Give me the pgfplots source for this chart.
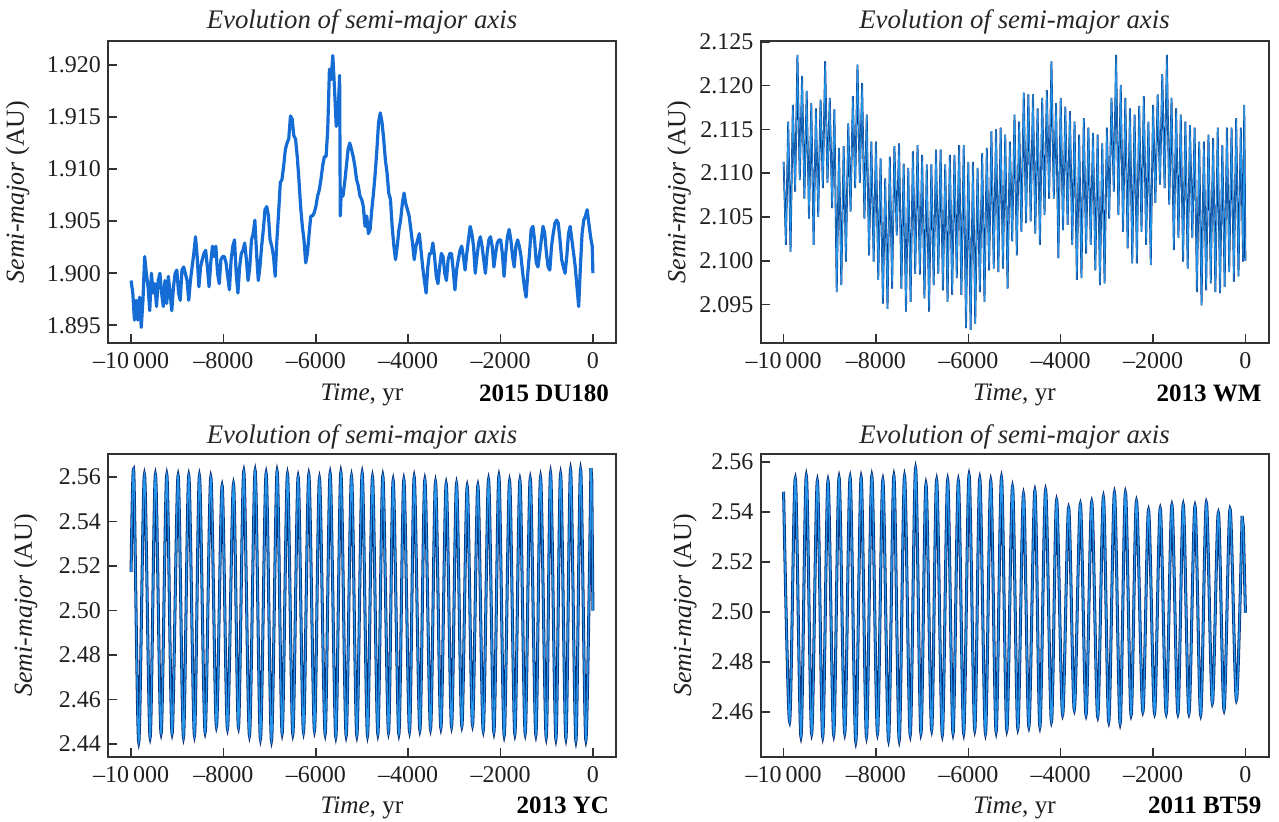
\documentclass[border=0pt]{standalone}
\usepackage{fontspec}
\setmainfont{Liberation Serif}
\usepackage{pgfplots}
\pgfplotsset{compat=1.18}
\usepackage{pgfplotstable}

\definecolor{axisgray}{RGB}{50,50,50}
\definecolor{dublue}{RGB}{20,108,212}
\definecolor{darkblue}{RGB}{10,45,120}
\definecolor{lightblue}{RGB}{35,150,235}

% 2015 DU180
\pgfplotstableread{
t v
-10000 1.8993
-9963 1.8981
-9927 1.8955
-9890 1.8974
-9853 1.8955
-9816 1.8977
-9780 1.8948
-9743 1.8974
-9706 1.9016
-9670 1.9000
-9633 1.8987
-9596 1.8964
-9560 1.9000
-9523 1.8981
-9486 1.8990
-9449 1.8968
-9413 1.8993
-9376 1.9000
-9339 1.8981
-9303 1.8968
-9266 1.8993
-9229 1.8971
-9193 1.8997
-9156 1.8981
-9119 1.8964
-9082 1.8987
-9046 1.9000
-9009 1.9003
-8972 1.8981
-8936 1.8974
-8899 1.9003
-8862 1.9006
-8826 1.9000
-8789 1.8993
-8752 1.8974
-8715 1.8993
-8679 1.9006
-8642 1.9019
-8605 1.9035
-8569 1.9016
-8532 1.8987
-8495 1.9006
-8459 1.9013
-8422 1.9019
-8385 1.9022
-8348 1.9006
-8312 1.8987
-8275 1.9010
-8238 1.9026
-8202 1.9016
-8165 1.9026
-8128 1.9000
-8091 1.8990
-8055 1.9013
-8018 1.9016
-7981 1.9016
-7944 1.9010
-7908 1.8997
-7871 1.8984
-7834 1.9013
-7797 1.9026
-7760 1.9032
-7724 1.9000
-7687 1.8981
-7650 1.9006
-7613 1.9019
-7577 1.9022
-7540 1.9029
-7503 1.9013
-7467 1.8993
-7430 1.9006
-7393 1.9032
-7357 1.9038
-7320 1.9051
-7283 1.9019
-7246 1.8993
-7210 1.9006
-7173 1.9026
-7136 1.9042
-7100 1.9061
-7063 1.9064
-7026 1.9055
-6990 1.9032
-6953 1.9026
-6916 1.9016
-6879 1.8997
-6843 1.9032
-6806 1.9058
-6769 1.9087
-6733 1.9090
-6696 1.9103
-6659 1.9119
-6623 1.9125
-6586 1.9129
-6549 1.9151
-6512 1.9148
-6476 1.9132
-6439 1.9129
-6402 1.9112
-6366 1.9090
-6329 1.9064
-6292 1.9045
-6256 1.9032
-6219 1.9010
-6182 1.9019
-6145 1.9038
-6109 1.9055
-6072 1.9055
-6035 1.9058
-5999 1.9064
-5962 1.9074
-5925 1.9080
-5889 1.9090
-5852 1.9103
-5815 1.9112
-5778 1.9112
-5742 1.9138
-5705 1.9196
-5668 1.9186
-5632 1.9209
-5595 1.9177
-5558 1.9141
-5522 1.9148
-5485 1.9190
-5470 1.9055
-5448 1.9080
-5412 1.9074
-5375 1.9087
-5338 1.9103
-5301 1.9119
-5265 1.9125
-5228 1.9119
-5191 1.9112
-5155 1.9103
-5118 1.9090
-5081 1.9084
-5044 1.9074
-5008 1.9071
-4971 1.9064
-4934 1.9045
-4898 1.9055
-4861 1.9038
-4824 1.9042
-4788 1.9061
-4751 1.9077
-4714 1.9096
-4677 1.9119
-4641 1.9145
-4604 1.9154
-4567 1.9145
-4531 1.9129
-4494 1.9109
-4457 1.9096
-4421 1.9077
-4384 1.9071
-4347 1.9045
-4310 1.9026
-4274 1.9013
-4237 1.9026
-4200 1.9042
-4164 1.9051
-4126 1.9067
-4089 1.9077
-4053 1.9067
-4016 1.9061
-3979 1.9055
-3942 1.9042
-3906 1.9029
-3869 1.9013
-3832 1.9026
-3796 1.9032
-3759 1.9038
-3722 1.9022
-3686 1.9006
-3649 1.8993
-3612 1.8981
-3575 1.9006
-3539 1.9019
-3502 1.9019
-3465 1.9029
-3429 1.9016
-3392 1.8997
-3355 1.8990
-3319 1.9006
-3282 1.9019
-3245 1.9016
-3208 1.9000
-3172 1.8993
-3135 1.9013
-3098 1.9019
-3062 1.9019
-3025 1.9003
-2988 1.8984
-2952 1.9003
-2915 1.9013
-2878 1.9022
-2841 1.9026
-2805 1.9016
-2768 1.9003
-2731 1.9019
-2695 1.9032
-2658 1.9045
-2621 1.9038
-2585 1.9026
-2548 1.9000
-2511 1.9016
-2474 1.9029
-2438 1.9035
-2401 1.9026
-2364 1.9013
-2328 1.9000
-2291 1.9019
-2254 1.9032
-2218 1.9035
-2181 1.9026
-2144 1.9006
-2107 1.9019
-2071 1.9029
-2034 1.9032
-1997 1.9032
-1961 1.9019
-1924 1.8997
-1887 1.9019
-1851 1.9035
-1814 1.9042
-1777 1.9032
-1740 1.9016
-1704 1.9006
-1667 1.9026
-1630 1.9032
-1594 1.9026
-1557 1.9016
-1520 1.9000
-1484 1.8987
-1447 1.8977
-1410 1.9000
-1373 1.9019
-1337 1.9042
-1300 1.9045
-1263 1.9032
-1227 1.9010
-1190 1.9006
-1153 1.9019
-1117 1.9032
-1080 1.9045
-1043 1.9038
-1006 1.9019
-970 1.9006
-933 1.9003
-896 1.9026
-860 1.9038
-823 1.9048
-786 1.9051
-750 1.9048
-713 1.9032
-676 1.9013
-639 1.9006
-603 1.9000
-566 1.9016
-529 1.9038
-493 1.9045
-455 1.9032
-418 1.9019
-382 1.9006
-345 1.8987
-308 1.8968
-271 1.9006
-235 1.9038
-198 1.9051
-161 1.9055
-125 1.9061
-88 1.9048
-51 1.9035
-15 1.9026
0 1.9000
}\du

% 2013 WM
\pgfplotstableread{
t v
-10000 2.1113
-9950 2.1018
-9900 2.1159
-9850 2.1010
-9800 2.1178
-9750 2.1079
-9700 2.1235
-9650 2.1092
-9600 2.1211
-9550 2.1071
-9500 2.1194
-9450 2.1048
-9400 2.1180
-9350 2.1018
-9300 2.1174
-9250 2.1050
-9200 2.1184
-9150 2.1083
-9100 2.1228
-9050 2.1089
-9000 2.1186
-8950 2.1060
-8900 2.1173
-8850 2.0964
-8800 2.1129
-8750 2.0972
-8700 2.1131
-8650 2.0999
-8600 2.1157
-8550 2.1056
-8500 2.1188
-8450 2.1083
-8400 2.1224
-8350 2.1089
-8300 2.1203
-8250 2.1048
-8200 2.1167
-8150 2.1006
-8100 2.1136
-8050 2.0999
-8000 2.1136
-7950 2.0978
-7900 2.1117
-7850 2.0951
-7800 2.1094
-7750 2.0945
-7700 2.1119
-7650 2.0968
-7600 2.1131
-7550 2.1029
-7500 2.1134
-7450 2.0968
-7400 2.1111
-7350 2.0942
-7300 2.1106
-7250 2.0953
-7200 2.1125
-7150 2.0985
-7100 2.1132
-7050 2.0984
-7000 2.1121
-6950 2.0957
-6900 2.1110
-6850 2.0942
-6800 2.1110
-6750 2.0972
-6700 2.1127
-6650 2.0985
-6600 2.1127
-6550 2.0966
-6500 2.1110
-6450 2.0953
-6400 2.1121
-6350 2.0961
-6300 2.1121
-6250 2.0980
-6200 2.1132
-6150 2.0961
-6100 2.1132
-6050 2.0923
-6000 2.1113
-5950 2.0921
-5900 2.1113
-5850 2.0928
-5800 2.1106
-5750 2.0964
-5700 2.1123
-5650 2.0953
-5600 2.1129
-5550 2.0989
-5500 2.1148
-5450 2.0991
-5400 2.1150
-5350 2.0987
-5300 2.1152
-5250 2.0991
-5200 2.1144
-5150 2.0968
-5100 2.1136
-5050 2.1022
-5000 2.1167
-4950 2.1006
-4900 2.1159
-4850 2.1033
-4800 2.1192
-4750 2.1043
-4700 2.1190
-4650 2.1045
-4600 2.1190
-4550 2.1031
-4500 2.1174
-4450 2.1018
-4400 2.1186
-4350 2.1052
-4300 2.1195
-4250 2.1071
-4200 2.1228
-4150 2.1071
-4100 2.1180
-4050 2.1003
-4000 2.1186
-3950 2.1035
-3900 2.1176
-3850 2.1041
-3800 2.1171
-3750 2.1018
-3700 2.1159
-3650 2.0978
-3600 2.1144
-3550 2.0980
-3500 2.1163
-3450 2.1008
-3400 2.1152
-3350 2.1018
-3300 2.1146
-3250 2.0989
-3200 2.1144
-3150 2.0972
-3100 2.1134
-3050 2.0974
-3000 2.1152
-2950 2.1048
-2900 2.1186
-2850 2.1079
-2800 2.1235
-2750 2.1052
-2700 2.1201
-2650 2.1033
-2600 2.1186
-2550 2.1014
-2500 2.1174
-2450 2.0997
-2400 2.1167
-2350 2.0997
-2300 2.1177
-2250 2.1033
-2200 2.1188
-2150 2.1018
-2100 2.1159
-2050 2.0995
-2000 2.1178
-1950 2.1066
-1900 2.1190
-1850 2.1087
-1800 2.1213
-1750 2.1083
-1700 2.1235
-1650 2.1064
-1600 2.1186
-1550 2.1012
-1500 2.1174
-1450 2.1026
-1400 2.1167
-1350 2.0999
-1300 2.1159
-1250 2.0991
-1200 2.1155
-1150 2.1026
-1100 2.1152
-1050 2.0964
-1000 2.1136
-950 2.0949
-900 2.1136
-850 2.0966
-800 2.1144
-750 2.0974
-700 2.1140
-650 2.0964
-600 2.1152
-550 2.0963
-500 2.1132
-450 2.0970
-400 2.1152
-350 2.0987
-300 2.1152
-250 2.0976
-200 2.1163
-150 2.0982
-100 2.1152
-50 2.0999
-25 2.1178
0 2.1000
}\wm

% 2013 YC (smooth part; the last drop is drawn straight)
\pgfplotstableread{
t v
-10000 2.5173
-9942 2.5623
-9834 2.4408
-9711 2.5611
-9588 2.4430
-9473 2.5611
-9350 2.4448
-9227 2.5611
-9112 2.4448
-8982 2.5606
-8866 2.4430
-8751 2.5606
-8628 2.4438
-8520 2.5606
-8397 2.4453
-8274 2.5600
-8152 2.4478
-8029 2.5560
-7913 2.4468
-7783 2.5569
-7675 2.4475
-7560 2.5626
-7437 2.4438
-7314 2.5628
-7199 2.4423
-7076 2.5616
-6960 2.4415
-6838 2.5626
-6729 2.4448
-6614 2.5613
-6498 2.4445
-6383 2.5600
-6267 2.4453
-6152 2.5611
-6029 2.4460
-5921 2.5594
-5798 2.4445
-5690 2.5616
-5567 2.4433
-5458 2.5621
-5343 2.4438
-5227 2.5603
-5112 2.4438
-4996 2.5618
-4881 2.4438
-4773 2.5600
-4657 2.4445
-4549 2.5604
-4426 2.4453
-4325 2.5585
-4202 2.4445
-4094 2.5588
-3971 2.4457
-3870 2.5600
-3747 2.4463
-3639 2.5588
-3516 2.4468
-3408 2.5578
-3292 2.4472
-3177 2.5570
-3061 2.4478
-2953 2.5570
-2838 2.4481
-2722 2.5558
-2607 2.4486
-2491 2.5561
-2375 2.4460
-2260 2.5588
-2144 2.4453
-2036 2.5603
-1921 2.4438
-1805 2.5581
-1690 2.4445
-1581 2.5585
-1466 2.4448
-1357 2.5593
-1235 2.4441
-1134 2.5600
-1011 2.4430
-917 2.5618
-801 2.4423
-700 2.5613
-585 2.4426
-484 2.5633
-368 2.4415
-267 2.5633
-152 2.4418
-43 2.5640
}\yc
\pgfplotstableread{
t v
-43 2.5640
-25 2.5590
0 2.5000
}\ycend

% 2011 BT59
\pgfplotstableread{
t v
-10000 2.5480
-9870 2.4560
-9747 2.5533
-9624 2.4500
-9508 2.5544
-9392 2.4513
-9269 2.5524
-9153 2.4500
-9038 2.5524
-8915 2.4507
-8799 2.5537
-8676 2.4513
-8560 2.5537
-8437 2.4480
-8321 2.5537
-8205 2.4500
-8090 2.5543
-7967 2.4513
-7851 2.5527
-7728 2.4487
-7612 2.5543
-7496 2.4487
-7381 2.5543
-7258 2.4507
-7142 2.5573
-7026 2.4513
-6917 2.5511
-6794 2.4527
-6686 2.5527
-6563 2.4507
-6447 2.5527
-6331 2.4513
-6216 2.5524
-6100 2.4513
-5984 2.5547
-5861 2.4527
-5752 2.5533
-5629 2.4513
-5514 2.5524
-5398 2.4520
-5282 2.5537
-5166 2.4527
-5043 2.5500
-4928 2.4533
-4805 2.5471
-4689 2.4540
-4559 2.5484
-4450 2.4540
-4327 2.5487
-4200 2.4560
-4088 2.5447
-3958 2.4587
-3828 2.5416
-3705 2.4607
-3574 2.5431
-3451 2.4587
-3328 2.5440
-3198 2.4580
-3075 2.5460
-2959 2.4560
-2836 2.5477
-2713 2.4553
-2598 2.5477
-2475 2.4587
-2359 2.5443
-2221 2.4600
-2098 2.5407
-1968 2.4593
-1845 2.5413
-1715 2.4593
-1592 2.5427
-1462 2.4593
-1346 2.5429
-1223 2.4593
-1092 2.5424
-969 2.4587
-846 2.5437
-716 2.4633
-586 2.5396
-463 2.4607
-333 2.5411
-195 2.4647
-72 2.5383
}\bt
\pgfplotstableread{
t v
-72 2.5383
-45 2.5340
0 2.4996
}\btend

\newcommand{\lblfont}{\fontsize{12}{14}\selectfont}

\pgfplotsset{
  panel/.style={
    scale only axis, width=254pt,
    xmin=-10500, xmax=500,
    scaled x ticks=false, scaled y ticks=false,
    xtick={-10000,-8000,-6000,-4000,-2000,0},
    xticklabels={{\textendash10\,000},{\textendash8000},{\textendash6000},{\textendash4000},{\textendash2000},0},
    tick align=inside, xtick pos=bottom, ytick pos=left,
    major tick length=4.5pt,
    axis line style={axisgray, line width=1pt},
    every tick/.style={axisgray, line width=0.8pt},
    tick label style={font=\lblfont, text=black!88},
    xticklabel style={yshift=-1pt},
    /pgf/number format/assume math mode=true,
    yticklabel style={/pgf/number format/fixed, /pgf/number format/fixed zerofill},
    title={\textit{Evolution of semi-major axis}},
    every axis title shift=0pt,
    xlabel={\textit{Time}, yr},
    ylabel={\textit{Semi-major} (AU)},
    every axis plot/.append style={mark=none},
  },
  tl/.style 2 args={
    every axis title/.style={at={(axis description cs:0.5,#1)}, anchor=center, font=\fontsize{13.4}{15}\selectfont, text=black!85},
    every axis x label/.style={at={(axis description cs:0.5,#2)}, anchor=base, font=\fontsize{12.6}{15}\selectfont, text=black!88},
  },
  yl/.style={
    every axis y label/.style={at={(axis description cs:#1,0.5)}, rotate=90, anchor=center, font=\fontsize{13}{15}\selectfont, text=black!88},
  },
}

\begin{document}
\begin{tikzpicture}
\path[use as bounding box] (0,0) rectangle (639.5pt,410.5pt);

% top left
\begin{axis}[panel, name=a1, at={(54pt,239pt)}, anchor=south west, height=151pt,
    ymin=1.8933, ymax=1.9223,
    ytick={1.895,1.900,1.905,1.910,1.915,1.920},
    yticklabel style={/pgf/number format/precision=3},
    tl={1.063}{-0.192}, yl={-0.178}]
\addplot[dublue, line width=1.6pt, line join=round] table[x=t, y=v] {\du};
\end{axis}
\node[anchor=base east, font=\bfseries\fontsize{12.5}{15}\selectfont] at ([yshift=-29pt]a1.south east) {2015 DU180};

% top right
\begin{axis}[panel, name=a2, at={(380.25pt,239pt)}, anchor=south west, height=151pt,
    ymin=2.0906, ymax=2.1251,
    ytick={2.095,2.100,2.105,2.110,2.115,2.120,2.125},
    yticklabel style={/pgf/number format/precision=3},
    tl={1.063}{-0.192}, yl={-0.16}]
\addplot[darkblue, line width=0.9pt] table[x=t, y=v] {\wm};
\addplot[lightblue, line width=0.5pt] table[x=t, y=v] {\wm};
\end{axis}
\node[anchor=base east, font=\bfseries\fontsize{12.5}{15}\selectfont] at ([yshift=-29pt]a2.south east) {2013 WM};

% bottom left
\begin{axis}[panel, name=a3, at={(54pt,32pt)}, anchor=south west, height=151.5pt,
    ymin=2.4342, ymax=2.5703,
    ytick={2.44,2.46,2.48,2.50,2.52,2.54,2.56},
    yticklabel style={/pgf/number format/precision=2},
    tl={1.056}{-0.185}, yl={-0.162}]
\addplot[darkblue, line width=1.5pt, smooth] table[x=t, y=v] {\yc};
\addplot[darkblue, line width=1.5pt] table[x=t, y=v] {\ycend};
\addplot[lightblue, line width=0.7pt, smooth] table[x=t, y=v] {\yc};
\addplot[lightblue, line width=0.7pt] table[x=t, y=v] {\ycend};
\end{axis}
\node[anchor=base east, font=\bfseries\fontsize{12.5}{15}\selectfont] at ([yshift=-28pt]a3.south east) {2013 YC};

% bottom right
\begin{axis}[panel, name=a4, at={(380.25pt,32pt)}, anchor=south west, height=151.5pt,
    ymin=2.4419, ymax=2.5631,
    ytick={2.46,2.48,2.50,2.52,2.54,2.56},
    yticklabel style={/pgf/number format/precision=2},
    tl={1.056}{-0.185}, yl={-0.149}]
\addplot[darkblue, line width=1.5pt, smooth] table[x=t, y=v] {\bt};
\addplot[darkblue, line width=1.5pt] table[x=t, y=v] {\btend};
\addplot[lightblue, line width=0.7pt, smooth] table[x=t, y=v] {\bt};
\addplot[lightblue, line width=0.7pt] table[x=t, y=v] {\btend};
\end{axis}
\node[anchor=base east, font=\bfseries\fontsize{12.5}{15}\selectfont] at ([yshift=-28pt]a4.south east) {2011 BT59};
\end{tikzpicture}
\end{document}
